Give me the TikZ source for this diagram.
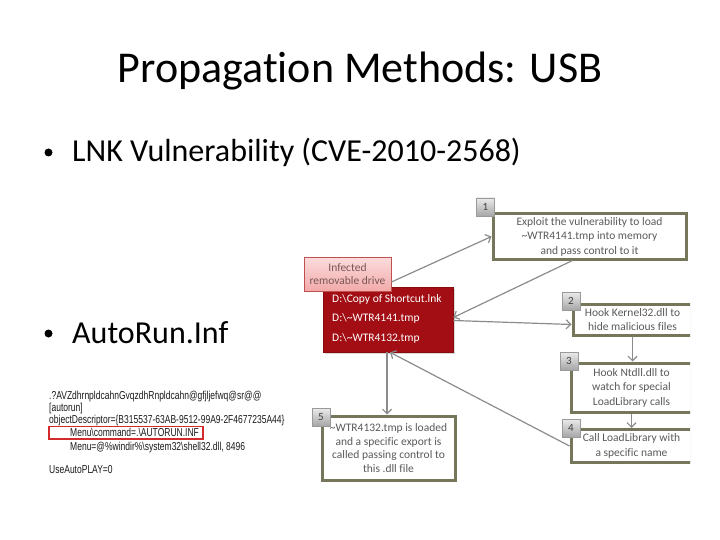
\documentclass[tikz,border=0pt]{standalone}
\usepackage{fontspec}
\setmainfont{Carlito}[Ligatures={NoCommon}]
\newfontfamily\narrowfont[FakeStretch=0.74]{Liberation Sans}
\usetikzlibrary{arrows.meta,shadows}
\definecolor{boxedge}{HTML}{76765A}
\definecolor{boxtext}{HTML}{5A5A5A}
\definecolor{sqedge}{HTML}{9A9A9A}
\definecolor{sqtop}{HTML}{EBEBEB}
\definecolor{sqbot}{HTML}{A6A6A6}
\definecolor{sqtext}{HTML}{404040}
\definecolor{conncol}{HTML}{8C8C8C}
\definecolor{drivered}{HTML}{A20E14}
\definecolor{driveredge}{HTML}{8A0A0E}
\definecolor{pinktop}{HTML}{FBDCDC}
\definecolor{pinkbot}{HTML}{F2AAAA}
\definecolor{pinkedge}{HTML}{C0504D}
\definecolor{pinktext}{HTML}{7A5555}
\definecolor{autotext}{HTML}{1A1A1A}
\definecolor{autored}{HTML}{D42A2A}
\begin{document}
\begin{tikzpicture}[x=1pt,y=-1pt,
  stepbox/.style={draw=boxedge, line width=3pt, fill=white, inner sep=0pt,
    align=center, text=boxtext, font=\fontsize{11.5}{14.5}\selectfont,
    drop shadow={shadow xshift=1.5pt,shadow yshift=-1.5pt,opacity=0.3}},
  numsq/.style={draw=sqedge, line width=0.6pt, top color=sqtop, bottom color=sqbot,
    minimum size=18pt, inner sep=0pt, text=sqtext, font=\fontsize{11}{12}\selectfont},
  conn/.style={draw=conncol, line width=1.2pt, -{Straight Barb[length=4.5pt,width=9pt]}},
  drivetxt/.style={anchor=base west, inner sep=0pt, text=white, font=\fontsize{11.5}{13}\selectfont},
  autoline/.style={anchor=base west, inner sep=0pt, text=autotext, font=\narrowfont\fontsize{11.5}{13}\selectfont},
  bigtext/.style={anchor=base west, inner sep=0pt, font=\fontsize{32}{38}\selectfont},
  bulletdot/.style={circle, fill=black, inner sep=0pt, minimum size=8pt}
]
\useasboundingbox (0,0) rectangle (720,540);
\fill[white] (0,0) rectangle (720,540);

% title and bullets
\node[anchor=base, inner sep=0pt, font=\fontsize{44}{52}\selectfont] (title) at (360,83) {Propagat\kern0pt ion Methods: USB};
\node[bulletdot] (b1) at (48.5,152.5) {};
\node[bigtext] (t1) at (72,162) {LNK Vulnerability (CVE-2010-2568)};
\node[bulletdot] (b2) at (48.5,333.5) {};
\node[bigtext] (t2) at (72,343) {AutoRun.Inf};

% autorun listing
\node[autoline] (l1) at (49,399) {.?AVZdhrnpldcahnGvqzdhRnpldcahn@gfjljefwq@sr@@};
\node[autoline] (l2) at (49,411) {[autorun]};
\node[autoline] (l3) at (49,423) {objectDescriptor=\{B315537-63AB-9512-99A9-2F4677235A44\}};
\node[autoline] (l4) at (70,436) {Menu\textbackslash{}command=.\textbackslash{}AUTORUN.INF};
\node[autoline] (l5) at (70,450) {Menu=@\%windir\%\textbackslash{}system32\textbackslash{}shell32.dll, 8496};
\node[autoline] (l6) at (49,473) {UseAutoPLAY=0};
\draw[autored, line width=1.4pt] (49,426.5) rectangle (203,439);

% diagram
\begin{scope}
\clip (298,188) rectangle (690,512);
\node[stepbox, minimum width=193pt, minimum height=45pt] (box1) at (589.5,236.5)
  {Exploit the vulnerability to load\\\textasciitilde{}WTR4141.tmp into memory\\and pass control to it};
\node[stepbox, minimum width=119pt, minimum height=31pt] (box2) at (632.5,319.5)
  {Hook Kernel32.dll to\\hide malicious files};
\node[stepbox, minimum width=121pt, minimum height=49pt] (box3) at (631.5,387.5)
  {Hook Ntdll.dll to\\watch for special\\LoadLibrary calls};
\node[stepbox, minimum width=121pt, minimum height=33pt] (box4) at (631.5,446)
  {Call LoadLibrary with\\a specific name};
\node[stepbox, minimum width=133pt, minimum height=64pt, font=\fontsize{11.5}{13.8}\selectfont] (box5) at (388.5,448)
  {\textasciitilde{}WTR4132.tmp is loaded\\and a specific export is\\called passing control to\\this .dll file};

\node[draw=driveredge, line width=0.6pt, fill=drivered, minimum width=130pt, minimum height=65pt, inner sep=0pt,
  drop shadow={shadow xshift=1.5pt,shadow yshift=-1.5pt,opacity=0.3}] (red) at (388,319.5) {};
\node[drivetxt] (r1) at (332,302) {D:\textbackslash{}Copy of Shortcut.lnk};
\node[drivetxt] (r2) at (332,321.5) {D:\textbackslash{}\textasciitilde{}WTR4141.tmp};
\node[drivetxt] (r3) at (332,341) {D:\textbackslash{}\textasciitilde{}WTR4132.tmp};

\node[draw=pinkedge, line width=0.8pt, top color=pinktop, bottom color=pinkbot,
  minimum width=87pt, minimum height=34pt, inner sep=0pt, align=center, text=pinktext,
  font=\fontsize{11.5}{13}\selectfont] (pink) at (347.5,274) {Infected\\removable drive};

\node[numsq] (n1) at (485.5,207) {1};
\node[numsq] (n2) at (571,301) {2};
\node[numsq] (n3) at (569,361) {3};
\node[numsq] (n4) at (571,428) {4};
\node[numsq] (n5) at (321,417) {5};

\draw[conn] ([yshift=-8pt]pink.east) -- (box1.west);
\draw[conn] ([xshift=-17pt]box1.south) -- ([yshift=2pt]red.east);
\draw[conn] ([yshift=-1pt]red.east) -- ([yshift=-5pt]box2.west);
\draw[conn] (box2.south) -- (box2.south |- box3.north);
\draw[conn] (box3.south) -- (box3.south |- box4.north);
\draw[conn] (box4.west) -- ([xshift=2pt]red.south);
\draw[conn] ([xshift=-1pt]red.south) -- ([xshift=-1pt]red.south |- box5.north);
\end{scope}
\end{tikzpicture}
\end{document}
